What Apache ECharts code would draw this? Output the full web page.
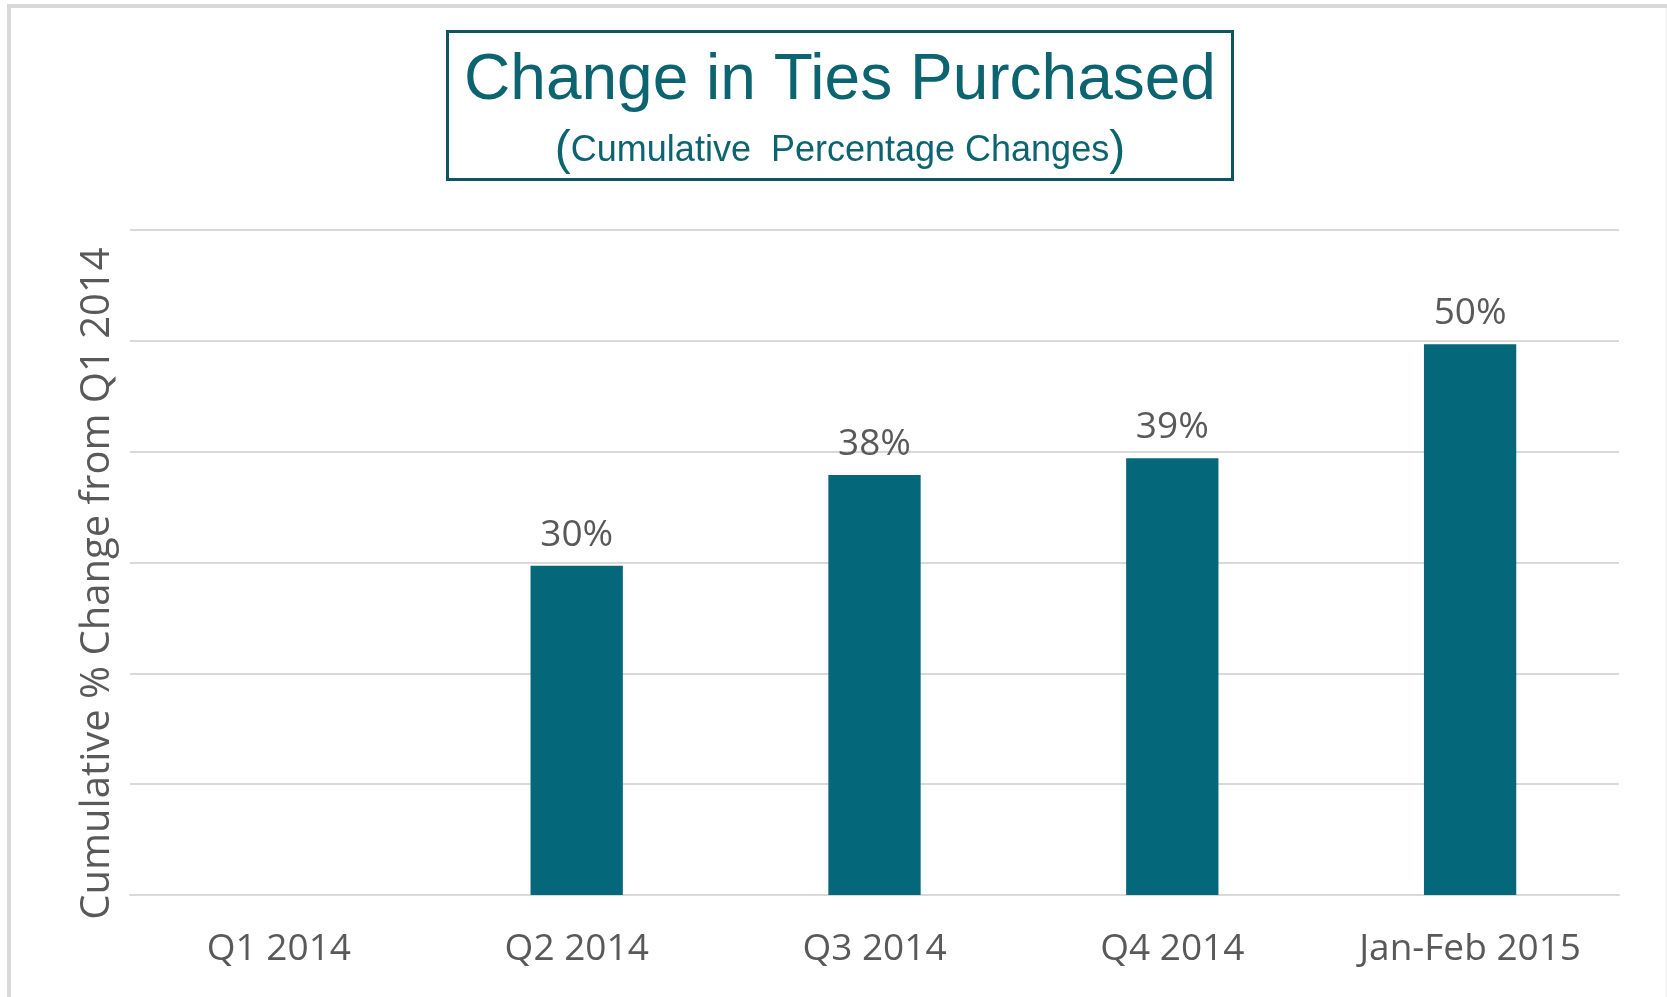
<!DOCTYPE html>
<html>
<head>
<meta charset="utf-8">
<script src="https://cdn.jsdelivr.net/npm/echarts@6/dist/echarts.min.js"></script>
<style>
  html, body { margin: 0; padding: 0; background: #fff; }
  #main { width: 1667px; height: 997px; }
</style>
</head>
<body>
<div id="main"></div>
<script>
// data
var categories = ['Q1 2014', 'Q2 2014', 'Q3 2014', 'Q4 2014', 'Jan-Feb 2015'];
var changePct = [0, 29.7, 37.9, 39.4, 49.7];
var labelText = ['', '30%', '38%', '39%', '50%'];

var teal = '#05677a';
var grey = '#595959';
var font = 'Open Sans';

var myChart = echarts.init(document.getElementById('main'));
myChart.setOption({
    animation: false,
    backgroundColor: '#fff',
    title: {
        text: 'Change in Ties Purchased',
        subtext: '{p|(}Cumulative  Percentage Changes{p|)}',
        left: 823,
        textAlign: 'center',
        top: 31,
        borderColor: '#0e5561',
        borderWidth: 3,
        padding: [18, 17, 5, 17],
        itemGap: 14,
        textStyle: {
            fontFamily: 'Liberation Sans',
            fontSize: 64,
            fontWeight: 'normal',
            color: '#0b6470'
        },
        subtextStyle: {
            fontFamily: 'Liberation Sans',
            fontSize: 36,
            color: '#0b6470',
            rich: {
                p: { fontFamily: 'Liberation Sans', fontSize: 48, color: '#0b6470' }
            }
        }
    },
    grid: { left: 130, right: 48, top: 230, bottom: 102 },
    xAxis: {
        type: 'category',
        data: categories,
        axisTick: { show: false },
        axisLine: { lineStyle: { color: '#d9d9d9', width: 2 } },
        axisLabel: { color: grey, fontFamily: font, fontSize: 37, margin: 36 }
    },
    yAxis: {
        type: 'value',
        min: 0,
        max: 60,
        interval: 10,
        name: 'Cumulative % Change from Q1 2014',
        nameLocation: 'middle',
        nameGap: 12,
        nameTextStyle: { color: grey, fontFamily: font, fontSize: 40, padding: [0, 42, 0, 0] },
        axisLabel: { show: false },
        axisLine: { show: false },
        axisTick: { show: false },
        splitLine: { lineStyle: { color: '#d9d9d9', width: 2 } }
    },
    series: [{
        type: 'bar',
        data: changePct,
        barWidth: '31%',
        itemStyle: { color: teal },
        label: {
            show: true,
            position: 'top',
            distance: 12,
            color: grey,
            fontFamily: font,
            fontSize: 37,
            formatter: function (p) { return labelText[p.dataIndex]; }
        }
    }],
    graphic: [
        // outer frame
        { type: 'line', shape: { x1: 9, y1: 6, x2: 1667, y2: 6 }, style: { stroke: '#d9d9d9', lineWidth: 4 } },
        { type: 'line', shape: { x1: 9, y1: 4, x2: 9, y2: 997 }, style: { stroke: '#d9d9d9', lineWidth: 4 } },
        { type: 'line', shape: { x1: 1666, y1: 8, x2: 1666, y2: 997 }, style: { stroke: '#ececec', lineWidth: 1 } }
    ]
});
</script>
</body>
</html>
